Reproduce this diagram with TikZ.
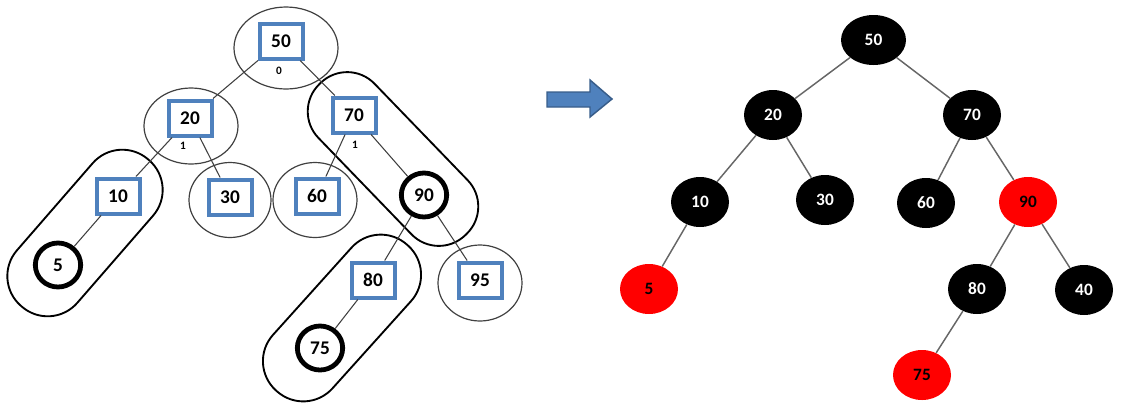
\documentclass[tikz,border=0pt]{standalone}
\usepackage{fontspec}
\setmainfont{Carlito}
\usetikzlibrary{shapes.geometric}
\definecolor{boxblue}{HTML}{4F81BD}
\definecolor{arrowedge}{HTML}{385D8A}
\definecolor{rbred}{HTML}{FF0000}
\begin{document}
\begin{tikzpicture}[x=0.75pt,y=-0.75pt,
  sqbox/.style={rectangle, draw=boxblue, line width=3pt, fill=white, minimum width=32.25pt, minimum height=26.25pt, inner sep=0pt, font=\bfseries\fontsize{14.5}{16}\selectfont},
  ringnode/.style={ellipse, draw=black, line width=3.6pt, fill=white, minimum width=34pt, minimum height=33pt, inner sep=0pt, font=\bfseries\fontsize{14.5}{16}\selectfont},
  halo/.style={ellipse, draw=black!75, line width=0.9pt, inner sep=0pt},
  capsule/.style={rectangle, draw=black, line width=1.4pt, inner sep=0pt},
  lfedge/.style={draw=black!75, line width=0.8pt},
  idx/.style={font=\bfseries\fontsize{8.5}{9}\selectfont, inner sep=0pt},
  rbnode/.style={ellipse, fill=black, text=white, minimum width=43.5pt, minimum height=37.5pt, inner sep=0pt, font=\bfseries\fontsize{13}{15}\selectfont},
  rednode/.style={rbnode, fill=rbred, text=black},
  rbedge/.style={draw=black!60, line width=1.1pt}
]
\useasboundingbox (0,0) rectangle (1124,412);

% ---------- left tree: groupings ----------
\node[halo, minimum width=78pt, minimum height=61.5pt] (h50) at (286,48) {};
\node[halo, minimum width=70.5pt, minimum height=57pt] (h20) at (191,126) {};
\node[halo, minimum width=61.5pt, minimum height=56.25pt] (h30) at (230,200) {};
\node[halo, minimum width=63pt, minimum height=56.25pt] (h60) at (315,200) {};
\node[halo, minimum width=63pt, minimum height=57pt] (h95) at (480,283) {};
\node[capsule, rounded corners=28.5pt, minimum width=157.5pt, minimum height=58.5pt, rotate=-46] (k90) at (393,159) {};
\node[capsule, rounded corners=29.5pt, minimum width=147pt, minimum height=60pt, rotate=48] (k75) at (342,318) {};
\node[capsule, rounded corners=29.5pt, minimum width=145.5pt, minimum height=60pt, rotate=49] (k5) at (85,233) {};

% ---------- left tree: nodes ----------
\node[sqbox] (b50) at (281,41) {50};
\node[sqbox] (b20) at (190,118) {20};
\node[sqbox] (b70) at (354,115) {70};
\node[sqbox] (b10) at (118,196) {10};
\node[sqbox] (b30) at (230,197) {30};
\node[sqbox] (b60) at (317,196) {60};
\node[ringnode] (c90) at (424,195) {90};
\node[sqbox] (b80) at (373,280) {80};
\node[sqbox] (b95) at (480,280) {95};
\node[ringnode] (c5) at (58,265) {5};
\node[ringnode] (c75) at (320,348) {75};

\node[idx] (l0) at (279,71) {0};
\node[idx] (l1a) at (183,146) {1};
\node[idx] (l1b) at (355,145) {1};

% ---------- left tree: edges ----------
\draw[lfedge] (b50) -- (b20);
\draw[lfedge] (b50) -- (b70);
\draw[lfedge] (b20) -- (b10);
\draw[lfedge] (b20) -- (b30);
\draw[lfedge] (b70) -- (b60);
\draw[lfedge] (b70) -- (c90);
\draw[lfedge] (b10) -- (c5);
\draw[lfedge] (c90) -- (b80);
\draw[lfedge] (c90) -- (b95);
\draw[lfedge] (b80) -- (c75);

% ---------- arrow ----------
\fill[boxblue, draw=arrowedge, line width=1.1pt, line join=miter]
  (547,92) -- (590,92) -- (590,80) -- (612,99) -- (590,117) -- (590,107) -- (547,107) -- cycle;

% ---------- right tree ----------
\node[rbnode, minimum width=48.75pt] (r50) at (873.5,40) {50};
\node[rbnode] (r20) at (773,115) {20};
\node[rbnode] (r70) at (972,115) {70};
\node[rbnode] (r10) at (700,202) {10};
\node[rbnode] (r30) at (825,200) {30};
\node[rbnode] (r60) at (926,203) {60};
\node[rednode] (r90) at (1028,202) {90};
\node[rednode] (r5) at (649,289) {5};
\node[rbnode] (r80) at (977,289) {80};
\node[rbnode] (r40) at (1084,290) {40};
\node[rednode] (r75) at (922,375) {75};

\draw[rbedge] (r50) -- (r20);
\draw[rbedge] (r50) -- (r70);
\draw[rbedge] (r20) -- (r10);
\draw[rbedge] (r20) -- (r30);
\draw[rbedge] (r70) -- (r60);
\draw[rbedge] (r70) -- (r90);
\draw[rbedge] (r10) -- (r5);
\draw[rbedge] (r90) -- (r80);
\draw[rbedge] (r90) -- (r40);
\draw[rbedge] (r80) -- (r75);
\end{tikzpicture}
\end{document}
